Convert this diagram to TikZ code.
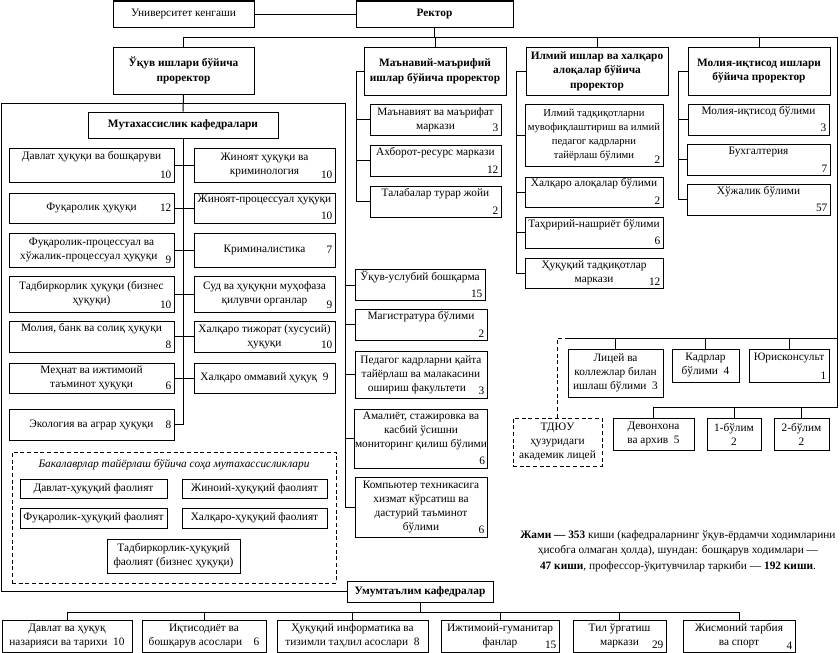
\documentclass[tikz,border=0pt]{standalone}
\usepackage{fontspec}
\setmainfont{Liberation Serif}
\newcommand\fnA{\fontsize{8.5}{10.5}\selectfont}
\newcommand\fnB{\fontsize{8.5}{11}\selectfont\bfseries}
\newcommand\fnC{\fontsize{8}{10.5}\selectfont}
\newcommand\OBox[7][]{%
  \pgfmathsetmacro\obw{(#5-#3)*0.75}%
  \pgfmathsetmacro\obh{(#6-#4)*0.75}%
  \node[bx,minimum width=\obw pt,minimum height=\obh pt,#1] (#2) at ({(#3+#5)/2},{(#4+#6)/2}) {#7};}
\begin{document}
\begin{tikzpicture}[x=0.75pt,y=-0.75pt,line width=0.75pt,
  bx/.style={draw,align=center,inner xsep=0.5pt,inner ysep=1pt,font=\fnA},
  bxb/.style={bx,font=\fnB},
  nm/.style={anchor=south east,inner xsep=2pt,inner ysep=2.2pt,font=\fnA},
  nme/.style={anchor=east,inner sep=2pt,font=\fnA},
  dsh/.style={dash pattern=on 3pt off 2pt}]
\useasboundingbox (0,0) rectangle (840,653);
% top
\OBox{univ}{113}{1}{254}{27}{Университет кенгаши}
\OBox[bxb]{rektor}{356}{1}{513}{27}{Ректор}
\OBox[bxb]{pr1}{113}{47}{254}{94}{Ўқув ишлари бўйича\\проректор}
\OBox[bxb]{pr2}{364}{47}{506}{95}{Маънавий-маърифий\\ишлар бўйича проректор}
\OBox[bxb]{pr3}{526}{47}{668}{95}{Илмий ишлар ва халқаро\\алоқалар бўйича\\проректор}
\OBox[bxb]{pr4}{688}{47}{830}{95}{Молия-иқтисод ишлари\\бўйича проректор}
\OBox[bxb]{mk}{88}{112}{278}{138}{Мутахассислик кафедралари}
% left column
\OBox[label={[nm]south east:10}]{L1}{9}{148}{174}{182}{Давлат ҳуқуқи ва бошқаруви\\\strut}
\OBox[label={[nme]east:12}]{L2}{9}{193}{174}{223}{Фуқаролик ҳуқуқи}
\OBox[label={[nm]south east:9}]{L3}{9}{233}{174}{267}{Фуқаролик-процессуал ва\\хўжалик-процессуал ҳуқуқи\hspace*{4pt}}
\OBox[label={[nm]south east:10}]{L4}{9}{276}{174}{312}{Тадбиркорлик ҳуқуқи (бизнес\\ҳуқуқи)}
\OBox[label={[nm]south east:8}]{L5}{9}{321}{174}{352}{Молия, банк ва солиқ ҳуқуқи\\\strut}
\OBox[label={[nm]south east:6}]{L6}{9}{363}{174}{393}{Меҳнат ва ижтимоий\\таъминот ҳуқуқи}
\OBox[label={[nme]east:8}]{L7}{9}{409}{174}{440}{Экология ва аграр ҳуқуқи}
% right column
\OBox[label={[nm]south east:10}]{R1}{194}{148}{335}{182}{Жиноят ҳуқуқи ва\\криминология}
\OBox[label={[nm]south east:10}]{R2}{194}{193}{335}{223}{Жиноят-процессуал ҳуқуқи\\\strut}
\OBox[label={[nme]east:7}]{R3}{194}{233}{335}{267}{Криминалистика}
\OBox[label={[nm]south east:9}]{R4}{194}{276}{335}{312}{Суд ва ҳуқуқни муҳофаза\\қилувчи органлар}
\OBox[label={[nm]south east:10}]{R5}{194}{321}{335}{352}{Халқаро тижорат (хусусий)\\ҳуқуқи}
\OBox{R6}{194}{363}{335}{393}{Халқаро оммавий ҳуқуқ\ \ 9}
% bachelor box
\OBox[dsh]{bak}{12}{452}{336}{583}{}
\node[font=\fnA\itshape] (baktitle) at (174,465) {Бакалаврлар тайёрлаш бўйича соҳа мутахассисликлари};
\OBox{b1}{20}{479}{167}{498}{Давлат-ҳуқуқий фаолият}
\OBox{b2}{182}{479}{327}{498}{Жиноий-ҳуқуқий фаолият}
\OBox{b3}{20}{508}{167}{528}{Фуқаролик-ҳуқуқий фаолият}
\OBox{b4}{182}{508}{327}{528}{Халқаро-ҳуқуқий фаолият}
\OBox{b5}{107}{539}{240}{573}{Тадбиркорлик-ҳуқуқий\\фаолият (бизнес ҳуқуқи)}
% middle lower column
\OBox[label={[nm]south east:15}]{m1}{355}{270}{485}{300}{Ўқув-услубий бошқарма\\\strut}
\OBox[label={[nm]south east:2}]{m2}{355}{309}{487}{340}{Магистратура бўлими\\\strut}
\OBox[label={[nm]south east:3}]{m3}{355}{351}{487}{398}{Педагог кадрларни қайта\\тайёрлаш ва малакасини\\ошириш факультети\hspace*{6pt}}
\OBox[label={[nm]south east:6}]{m4}{355}{409}{487}{468}{Амалиёт, стажировка ва\\касбий ўсишни\\мониторинг қилиш бўлими\\\strut}
\OBox[label={[nm]south east:6}]{m5}{355}{477}{487}{537}{Компьютер техникасига\\хизмат кўрсатиш ва\\дастурий таъминот\\бўлими}
% manaviy
\OBox[label={[nm]south east:3}]{s1}{370}{104}{501}{135}{Маънавият ва маърифат\\маркази}
\OBox[label={[nm]south east:12}]{s2}{370}{145}{501}{176}{Ахборот-ресурс маркази\\\strut}
\OBox[label={[nm]south east:2}]{s3}{370}{186}{501}{217}{Талабалар турар жойи\\\strut}
% ilmiy
\OBox[font=\fnC,label={[nm]south east:2}]{i1}{525}{104}{663}{166}{Илмий тадқиқотларни\\мувофиқлаштириш ва илмий\\педагог кадрларни\\тайёрлаш бўлими}
\OBox[label={[nm]south east:2}]{i2}{525}{177}{663}{207}{Халқаро алоқалар бўлими\\\strut}
\OBox[label={[nm]south east:6}]{i3}{525}{217}{663}{248}{Таҳририй-нашриёт бўлими\\\strut}
\OBox[label={[nm]south east:12}]{i4}{525}{258}{663}{288}{Ҳуқуқий тадқиқотлар\\маркази}
% moliya
\OBox[label={[nm]south east:3}]{f1}{688}{104}{829}{135}{Молия-иқтисод бўлими\\\strut}
\OBox[label={[nm]south east:7}]{f2}{687}{144}{830}{175}{Бухгалтерия\\\strut}
\OBox[label={[nm]south east:57}]{f3}{687}{184}{830}{215}{Хўжалик бўлими\\\strut}
% right lower
\OBox{c1}{568}{349}{663}{397}{Лицей ва\\коллежлар билан\\ишлаш бўлими\ \ 3}
\OBox{c2}{672}{349}{739}{382}{Кадрлар\\бўлими\ \ 4}
\OBox[label={[nm]south east:1}]{c3}{749}{349}{829}{382}{Юрисконсульт\\\strut}
\OBox{c4}{613}{418}{694}{450}{Девонхона\\ва архив\ \ 5}
\OBox{c5}{707}{418}{761}{450}{1-бўлим\\2}
\OBox{c6}{774}{418}{829}{450}{2-бўлим\\2}
\OBox[dsh]{tdyu}{513}{418}{602}{466}{ТДЮУ\\ҳузуридаги\\академик лицей}
% bottom
\OBox[bxb]{umum}{347}{581}{493}{602}{Умумтаълим кафедралар}
\OBox{u1}{2}{620}{132}{652}{Давлат ва ҳуқуқ\\назарияси ва тарихи\ \ 10}
\OBox{u2}{142}{620}{266}{652}{Иқтисодиёт ва\\бошқарув асослари\quad 6}
\OBox{u3}{277}{620}{428}{652}{Ҳуқуқий информатика ва\\тизимли таҳлил асослари\ \ 8}
\OBox[label={[nm]south east:15}]{u4}{441}{620}{559}{652}{Ижтимоий-гуманитар\\фанлар}
\OBox[label={[nm]south east:29}]{u5}{573}{620}{666}{652}{Тил ўргатиш\\маркази}
\OBox[label={[nm]south east:4}]{u6}{683}{620}{795}{652}{Жисмоний тарбия\\ва спорт}
% summary
\node[align=center,font=\fontsize{8.5}{11.5}\selectfont] (sum) at (678,551)
 {\textbf{Жами — 353} киши (кафедраларнинг ўқув-ёрдамчи ходимларини\\ҳисобга олмаган ҳолда), шундан: бошқарув ходимлари —\\\textbf{47 киши}, профессор-ўқитувчилар таркиби — \textbf{192 киши}.};
% coordinates
\coordinate (bus) at (0,37);
\coordinate (busR) at (837,37);
\coordinate (busD) at (837,338);
\coordinate (busE) at (837,407);
\coordinate (lineL) at (568,338);
\coordinate (tl) at (1,103);
\coordinate (tr) at (345,103);
\coordinate (sp2) at (356,0);
\coordinate (sp3) at (516,0);
\coordinate (sp4) at (678,0);
\coordinate (ub) at (0,612);
% connectors
\draw (univ.east) -- (rektor.west);
\draw (rektor.south) -- (rektor.south |- bus);
\draw (pr1.north) -- (pr1.north |- bus) -- (busR) -- (busE) -| (c4.north);
\foreach \p in {pr2,pr3,pr4} \draw (\p.north) -- (\p.north |- bus);
\foreach \c in {c5,c6} \draw (\c.north) -- (\c.north |- busE);
\draw (lineL) -- (busD);
\foreach \c in {c1,c2,c3} \draw (\c.north) -- (\c.north |- busD);
\draw[dsh] (tdyu.north) |- (lineL);
% left block
\draw (pr1.south) -- (mk.north);
\draw (m5.west) -| (tr) -- (tl) |- (umum.west);
\foreach \m in {m1,m2,m3,m4} \draw (\m.west) -- (\m.west -| tr);
\draw (mk.south) |- (L7.east);
\draw (L1.east) -- (R1.west);
\draw (L2.east) -- (R2.west);
\draw (L3.east) -- (R3.west);
\draw (L4.east) -- (R4.west);
\draw (L5.east) -- (R5.west);
\draw (L6.east) -- (R6.west);
% manaviy
\draw (pr2.west) -- (pr2.west -| sp2) |- (s3.west);
\foreach \s in {s1,s2} \draw (\s.west) -- (\s.west -| sp2);
% ilmiy
\draw (pr3.west) -- (pr3.west -| sp3) |- (i4.west);
\foreach \s in {i1,i2,i3} \draw (\s.west) -- (\s.west -| sp3);
% moliya
\draw (pr4.west) -- (pr4.west -| sp4) |- (f3.west);
\foreach \s in {f1,f2} \draw (\s.west) -- (\s.west -| sp4);
% bottom
\draw (umum.south) -- (umum.south |- ub);
\draw (u1.north) |- (u6.north |- ub) -- (u6.north);
\foreach \u in {u2,u3,u4,u5} \draw (\u.north) -- (\u.north |- ub);
\end{tikzpicture}
\end{document}
